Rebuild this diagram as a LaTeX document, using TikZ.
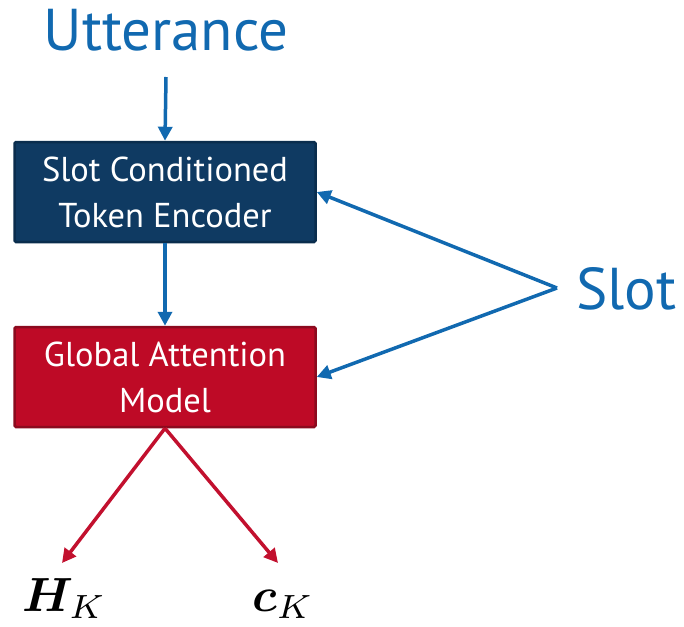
\documentclass[tikz,border=0pt]{standalone}
\usepackage{amsmath}
\usepackage{bm}
\usepackage{graphicx}
\usepackage{fontspec}
\setmainfont{PT Sans}
\usetikzlibrary{arrows.meta}
\definecolor{utblue}{HTML}{1169B0}
\definecolor{encfill}{HTML}{0F3A62}
\definecolor{encdraw}{HTML}{0A2D4D}
\definecolor{attfill}{HTML}{BE0A26}
\definecolor{attdraw}{HTML}{8C0A1E}
\definecolor{outred}{HTML}{C2102E}
\tikzset{
  modbox/.style={minimum width=301pt, minimum height=100pt, line width=2.5pt,
    rounded corners=1.5pt, text=white, align=center, font=\fontsize{34.5}{46}\selectfont},
  bluearrow/.style={draw=utblue, line width=3.5pt, -{Triangle[length=14pt,width=14pt]}},
  redarrow/.style={draw=outred, line width=3.5pt, -{Triangle[length=14pt,width=14pt]}},
  biglabel/.style={text=utblue, font=\fontsize{59}{66}\selectfont, inner sep=0pt},
  outlabel/.style={inner sep=0pt}
}
\begin{document}
\begin{tikzpicture}[x=1pt,y=-1pt]
\useasboundingbox (0,0) rectangle (684,626);
% inputs
\node[biglabel, anchor=base] (utt) at (166,50) {Utterance};
\node[biglabel, anchor=base west] (slot) at (576,309) {Slot};
\coordinate (fork) at (557,288);
% modules
\node[modbox, fill=encfill, draw=encdraw] (enc) at (165,192) {Slot Conditioned\\Token Encoder};
\node[modbox, fill=attfill, draw=attdraw] (att) at (165,377) {Global Attention\\Model};
% outputs
\node[outlabel, anchor=base west] (hk) at (22,611) {\scalebox{4.8}{$\bm{H}_K$}};
\node[outlabel, anchor=base west] (ck) at (252,611) {\scalebox{4.8}{$\bm{c}_K$}};
\coordinate (hkend) at (62,563);
\coordinate (ckend) at (278,563);
% connectors
\draw[bluearrow] (166,77) -- (enc.north);
\draw[bluearrow] (enc.south) -- (att.north);
\draw[bluearrow] (fork) -- (enc.east);
\draw[bluearrow] (fork) -- (att.east);
\draw[redarrow] (att.south) -- (hkend);
\draw[redarrow] (att.south) -- (ckend);
\end{tikzpicture}
\end{document}
